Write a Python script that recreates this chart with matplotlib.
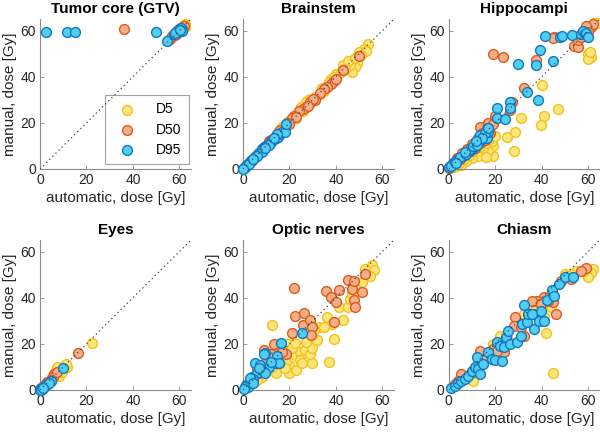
import numpy as np
import matplotlib
matplotlib.use("Agg")
import matplotlib.pyplot as plt

plt.rcParams.update({
    "font.family": ["Liberation Sans", "DejaVu Sans"],
    "font.size": 10,
})

# (automatic, manual) dose pairs, one list per structure / level
gtv_d5 = [(62.5, 63), (62, 62), (61.5, 61.5), (61, 60.5), (60.5, 61), (62.5, 61.5),
          (61.8, 62.5), (60, 60), (59, 59)]
gtv_d50 = [(36, 60.5), (56, 56.5), (57, 57.5), (58.5, 58.5), (59.5, 60), (60.5, 61),
           (61.5, 61.5), (62, 62), (61, 60.5), (60, 60), (58, 58)]
gtv_d95 = [(2.5, 59.5), (11.5, 59.2), (15, 59.5), (50, 59.2), (54.5, 55.5), (57.5, 58.5),
           (58.5, 59.5), (59, 60), (59.5, 59.5), (60, 60.5), (60.5, 61), (61, 60),
           (59.8, 59.8), (58, 59), (60.2, 60.2)]

brainstem_d5 = [(54, 54), (52, 52), (50, 50.5), (49, 46), (48, 44), (47, 42), (46, 45),
                (43, 45), (40, 41), (38, 39), (36, 36), (34, 35), (28, 30), (27, 29),
                (25, 27), (22, 23), (20, 21), (19, 20), (17, 18), (15, 16), (13, 13),
                (12, 12), (10, 10), (8, 8), (6, 6), (4, 4), (2, 2), (1, 1), (24, 25),
                (31, 31), (35, 34), (45, 47), (53, 51), (51, 49.5), (48, 48), (29, 28.5),
                (33, 32.5), (37, 37.5), (42, 42), (18, 17), (14, 13.5), (23, 22),
                (44, 43.5), (39, 40), (26, 25)]
brainstem_d50 = [(50, 49), (43, 43), (39, 38), (38, 37), (36, 35.5), (35, 34.5), (33, 33),
                 (31, 30), (29, 29), (27, 27), (26, 26), (24, 25), (22, 23), (21, 22),
                 (19, 20), (16, 17), (14, 14.5), (13, 13), (11, 12), (10, 10), (9, 9),
                 (7, 7), (5, 5), (3, 3), (2, 2), (1, 1), (12, 12.5), (17, 16), (30, 30.5),
                 (40, 39), (28, 27.5), (23, 22.5), (20, 19.5), (15, 15), (8, 8), (4, 4)]
brainstem_d95 = [(0.5, 0.5), (1, 1), (1.5, 1.5), (2, 2), (3, 3), (4, 4), (5, 5), (6, 6),
                 (7, 7), (8, 8.5), (9, 9.5), (10, 10), (11, 11), (12, 12), (13, 12.5),
                 (14, 13.5), (15, 14), (16, 15), (17, 16), (18, 16), (18.5, 19.5),
                 (14.5, 15), (12, 11.5), (8, 7.5), (6, 5.8), (3.5, 3.3), (1.2, 1.5),
                 (2.5, 2.3), (11, 10.5), (0, 0), (4.5, 4.3), (9.5, 9), (13.5, 13.5)]

hippo_d5 = [(60, 49.9), (61.1, 48.5), (60, 47.6), (62.6, 63.1), (61, 62), (40.3, 36.3),
            (46.9, 25.8), (41, 23), (39.6, 19.1), (30.9, 22), (25, 14), (28.7, 16.2),
            (27.9, 7.9), (19.2, 5.5), (19.2, 9.8), (17, 7.6), (14.1, 6.9), (14.8, 9),
            (11.2, 6.9), (12.7, 5.5), (9.8, 4.7), (7.6, 3.3), (5.4, 1.9), (3.2, 1.1),
            (16.3, 11.2), (18.5, 12), (15.6, 14.8), (13.4, 9.6), (1.7, 0.8), (4.5, 2.5),
            (63.8, 63.2), (60.7, 50.6), (8.5, 6), (10.5, 8), (6.5, 4.5), (12, 9.5),
            (17.5, 13), (20, 14.5), (16, 5.2), (2.5, 1.5)]
hippo_d50 = [(19.2, 49.9), (23.3, 48.5), (37.4, 47.3), (32.3, 34.9), (26.5, 25.5),
             (27.2, 29.1), (19.9, 22.8), (17, 19.8), (13.4, 18.4), (45.4, 57.1),
             (54, 53.5), (55.5, 52.8), (57.8, 58.5), (61.4, 61.4), (62, 62.8), (59.2, 62),
             (55.6, 55.7), (44.7, 56.8), (57, 57.1), (60, 59.3), (0.3, 0.5), (2.5, 2.6),
             (4.7, 4.3), (6.8, 6.2), (9, 7.6), (11.2, 9), (13.4, 11.2), (15.6, 12.6),
             (17.8, 15.5), (3.5, 4.8), (5.8, 6.8), (8, 8.8), (10.2, 11), (12.4, 13.5),
             (14.5, 15.8), (16.5, 17.8), (19, 19.5)]
hippo_d95 = [(0, 0.7), (1.7, 2.6), (3.9, 4.3), (6.1, 5.7), (8.3, 7.2), (9.8, 8.6),
             (11.2, 10), (12.7, 11.2), (13.8, 12.6), (15.3, 14.1), (16.3, 13.3),
             (17, 16.2), (13.4, 14.8), (15.6, 15.5), (17, 17.6), (20.7, 22), (20.7, 26.3),
             (24, 21.5), (26.5, 29), (26.5, 26.3), (29.7, 45.6), (33.8, 33.4),
             (37.7, 44.9), (39.3, 51.6), (38.6, 29.8), (41.5, 57.8), (44.7, 46.6),
             (48, 57.4), (48.8, 57.8), (53, 58), (57, 58.5), (57.8, 59.7), (58.5, 58.5),
             (59.2, 59), (60, 57.4), (1, 1.5), (2.8, 3.2), (5, 5), (7.2, 6.5), (9, 8.5),
             (10.5, 9.8), (12, 10.5), (14.5, 13.5), (3.2, 2.4), (6.8, 7.4), (11.8, 12.2)]

eyes_d5 = [(22.4, 20.2), (10.3, 10.5), (8.9, 9.1), (6.7, 8.1), (6, 6.9), (8.1, 6.2),
           (4.6, 4), (3.1, 2.6), (1, 1.2), (11.7, 9.8), (9.6, 7.7), (1.7, 1.9), (11, 11.3),
           (7.4, 9.8), (5, 5.8), (2.3, 2.8)]
eyes_d50 = [(16.3, 15.9), (6, 6.9), (5.7, 5.5), (4.6, 4.3), (3.1, 3.3), (1.7, 1.9),
            (0.6, 0.9), (7.4, 7.7), (2.4, 2.6)]
eyes_d95 = [(9.9, 9.5), (4.6, 4), (3.1, 2.6), (1.7, 1.4), (0.6, 0.7), (1, 0.3), (0, 0),
            (2.4, 2.2), (3.9, 3.2), (0.3, 0.2), (1.3, 1)]

optic_d5 = [(12.3, 28.1), (15.6, 18.7), (16.3, 14.4), (20, 10.8), (20, 7.2), (22.2, 15.1),
            (24.4, 16.5), (24.4, 12.9), (26.7, 17.3), (29.6, 11.5), (28.9, 15.8),
            (29.6, 18), (31.9, 21.6), (32.6, 27.3), (37, 12.2), (36.3, 31.7),
            (39.3, 22.3), (38.5, 28.8), (43, 30.2), (41.5, 36), (45.2, 36), (45.9, 39.6),
            (49.6, 43.9), (51.1, 46.8), (54.1, 52.5), (55.6, 54), (56.3, 51.8),
            (54.8, 49.6), (52.6, 52.5), (19.3, 20.1), (17, 17.3), (14.1, 7.2),
            (12.6, 10.1), (10.4, 8.6), (8.1, 5.8), (5.9, 4.3), (3.7, 2.9), (18.5, 12.2),
            (23, 8.6), (25.2, 11.5), (21, 18), (27, 21), (18, 9.5), (16, 11.5),
            (22.5, 20.5), (35, 27.5), (30.5, 26), (47, 41.5)]
optic_d50 = [(21.9, 44.2), (22.2, 32.1), (26.2, 33.4), (25.9, 28.1), (28.9, 30.2),
             (29.6, 27.3), (29.3, 23.7), (21.2, 24.5), (15.3, 19.4), (13.3, 20.1),
             (11.9, 15.8), (8.9, 17.3), (14.1, 12.9), (18.5, 15.8), (35.6, 42.9),
             (37.8, 40.3), (40, 38.1), (39.3, 29.5), (41.5, 43.2), (45.2, 47.8),
             (46.7, 43.9), (47.9, 47.1), (47.9, 38.8), (48.4, 36), (51.1, 42.4),
             (52.6, 50.4), (9.6, 11.5), (6.7, 7.2), (4.4, 4.3), (2.2, 2.2), (11.1, 14.4),
             (5.9, 9.4), (17, 16.5), (3.3, 3.8), (8, 9)]
optic_d95 = [(25.6, 24.5), (16.3, 20.4), (9.6, 16.1), (8.9, 15.4), (5.2, 11.5),
             (7.4, 10.8), (11.1, 10.1), (14.1, 11.5), (14.8, 14.7), (15.6, 11.8),
             (1.5, 2.2), (3, 3.6), (3.7, 5.8), (5.9, 7.2), (8.1, 8.6), (9.6, 7.2),
             (2.2, 1.4), (0.7, 1.2), (4.4, 4.6), (6.7, 9.4), (11.9, 12.2), (0.5, 0.4),
             (2.8, 5), (4.5, 3)]

chiasm_d5 = [(41.8, 24.6), (44.7, 7.2), (62.2, 52.5), (61.4, 50.6), (60, 48.8),
             (57.8, 51.7), (54.9, 51.7), (52.7, 50.3), (49.8, 50.3), (41, 31.8),
             (36.7, 34.4), (29.4, 30.1), (32.3, 32.9), (22.1, 23.6), (19.2, 19.9),
             (13.4, 11.3), (10.5, 4), (9, 6.9), (6.1, 5.5), (3.9, 3.3), (11.9, 9.8),
             (16.3, 14.2), (25, 22.8), (44, 35.8), (51.2, 49.6)]
chiasm_d50 = [(46.1, 32.9), (44.7, 38), (41, 40.2), (38.1, 38.7), (36, 38.7), (28.7, 31.5),
              (27.9, 27.9), (32.3, 23.6), (23.6, 16.3), (24.3, 19.9), (13.4, 17.1),
              (14.8, 13.4), (10.5, 7.7), (7.6, 6.2), (5.4, 6.9), (3.9, 4), (2.5, 2.6),
              (48.3, 47.4), (52.7, 48.1), (59.2, 52.9), (57.1, 51.7), (36.7, 32.9),
              (19.2, 17.8), (17.8, 15.6), (39.6, 37.3), (42.5, 38.7), (20.7, 17.1),
              (30.9, 27.2)]
chiasm_d95 = [(1, 0.9), (2.5, 1.9), (3.9, 2.9), (5.4, 3.8), (6.8, 4.8), (8.3, 6.2),
              (9.8, 8.1), (11.2, 9.8), (12.2, 14.5), (12.7, 9), (13.4, 6.9), (14.8, 11.3),
              (17, 16.3), (18.5, 13.4), (19.9, 13), (22.9, 12.4), (20.7, 20.7),
              (22.1, 19.2), (23.6, 18.5), (24.7, 23.1), (25.3, 25.4), (26.5, 19.9),
              (29.4, 20.7), (30.9, 23.6), (31.6, 28.6), (32.2, 37), (33.8, 29.5),
              (34.2, 32.9), (36.7, 26.4), (38.9, 30.1), (39.6, 34.4), (41, 30.1),
              (42.1, 39), (44.3, 43.5), (45.1, 40.9), (47.6, 46), (49.8, 48.8),
              (53.4, 48.8), (36, 32.9)]

titles = ["Tumor core (GTV)", "Brainstem", "Hippocampi", "Eyes", "Optic nerves", "Chiasm"]
panels = [
    (gtv_d5, gtv_d50, gtv_d95),
    (brainstem_d5, brainstem_d50, brainstem_d95),
    (hippo_d5, hippo_d50, hippo_d95),
    (eyes_d5, eyes_d50, eyes_d95),
    (optic_d5, optic_d50, optic_d95),
    (chiasm_d5, chiasm_d50, chiasm_d95),
]
levels = ["D5", "D50", "D95"]
face = ["#FFE67C", "#F6B088", "#50CFF3"]
edge = ["#F2C21A", "#DC5A20", "#1478C0"]

fig = plt.figure(figsize=(6, 4.34), dpi=100)
lefts = [0.0667, 0.405, 0.748]
bottoms = [0.6106, 0.1014]
w, h = 0.2517, 0.3456
grey = "#262626"

for i, (title, series) in enumerate(zip(titles, panels)):
    ax = fig.add_axes([lefts[i % 3], bottoms[i // 3], w, h])
    handles = []
    for k, pts in enumerate(series):
        p = np.array(pts)
        sc = ax.scatter(p[:, 0], p[:, 1], s=50, facecolor=face[k], edgecolor=edge[k],
                        linewidths=1.0, zorder=2 + k, label=levels[k], clip_on=False)
        handles.append(sc)
    ax.plot([0, 65], [0, 65], ls=(0, (1, 2.5)), color="#404040", lw=0.9, zorder=10)
    ax.set_xlim(0, 65)
    ax.set_ylim(0, 65)
    ax.set_xticks([0, 20, 40, 60])
    ax.set_yticks([0, 20, 40, 60])
    for s in ["top", "right"]:
        ax.spines[s].set_visible(False)
    for s in ["left", "bottom"]:
        ax.spines[s].set_color("#8a8a8a")
        ax.spines[s].set_linewidth(0.8)
    ax.tick_params(direction="in", length=3, width=0.6, color="#8a8a8a",
                   labelcolor=grey, labelsize=10, pad=3)
    ax.set_xlabel("automatic, dose [Gy]", fontsize=11, color=grey, labelpad=3)
    ax.set_ylabel("manual, dose [Gy]", fontsize=11, color=grey, labelpad=2)
    ax.set_title(title, fontsize=11, fontweight="bold", pad=4)
    if i == 0:
        leg = ax.legend(handles=handles, loc="lower right", bbox_to_anchor=(0.985, 0.035),
                        fontsize=10, frameon=True, fancybox=False, handlelength=2.2,
                        handletextpad=1.0, borderpad=0.5, labelspacing=0.45,
                        borderaxespad=0)
        leg.get_frame().set_edgecolor("#8a8a8a")
        leg.get_frame().set_linewidth(0.8)

fig.savefig("out.png", dpi=100)
